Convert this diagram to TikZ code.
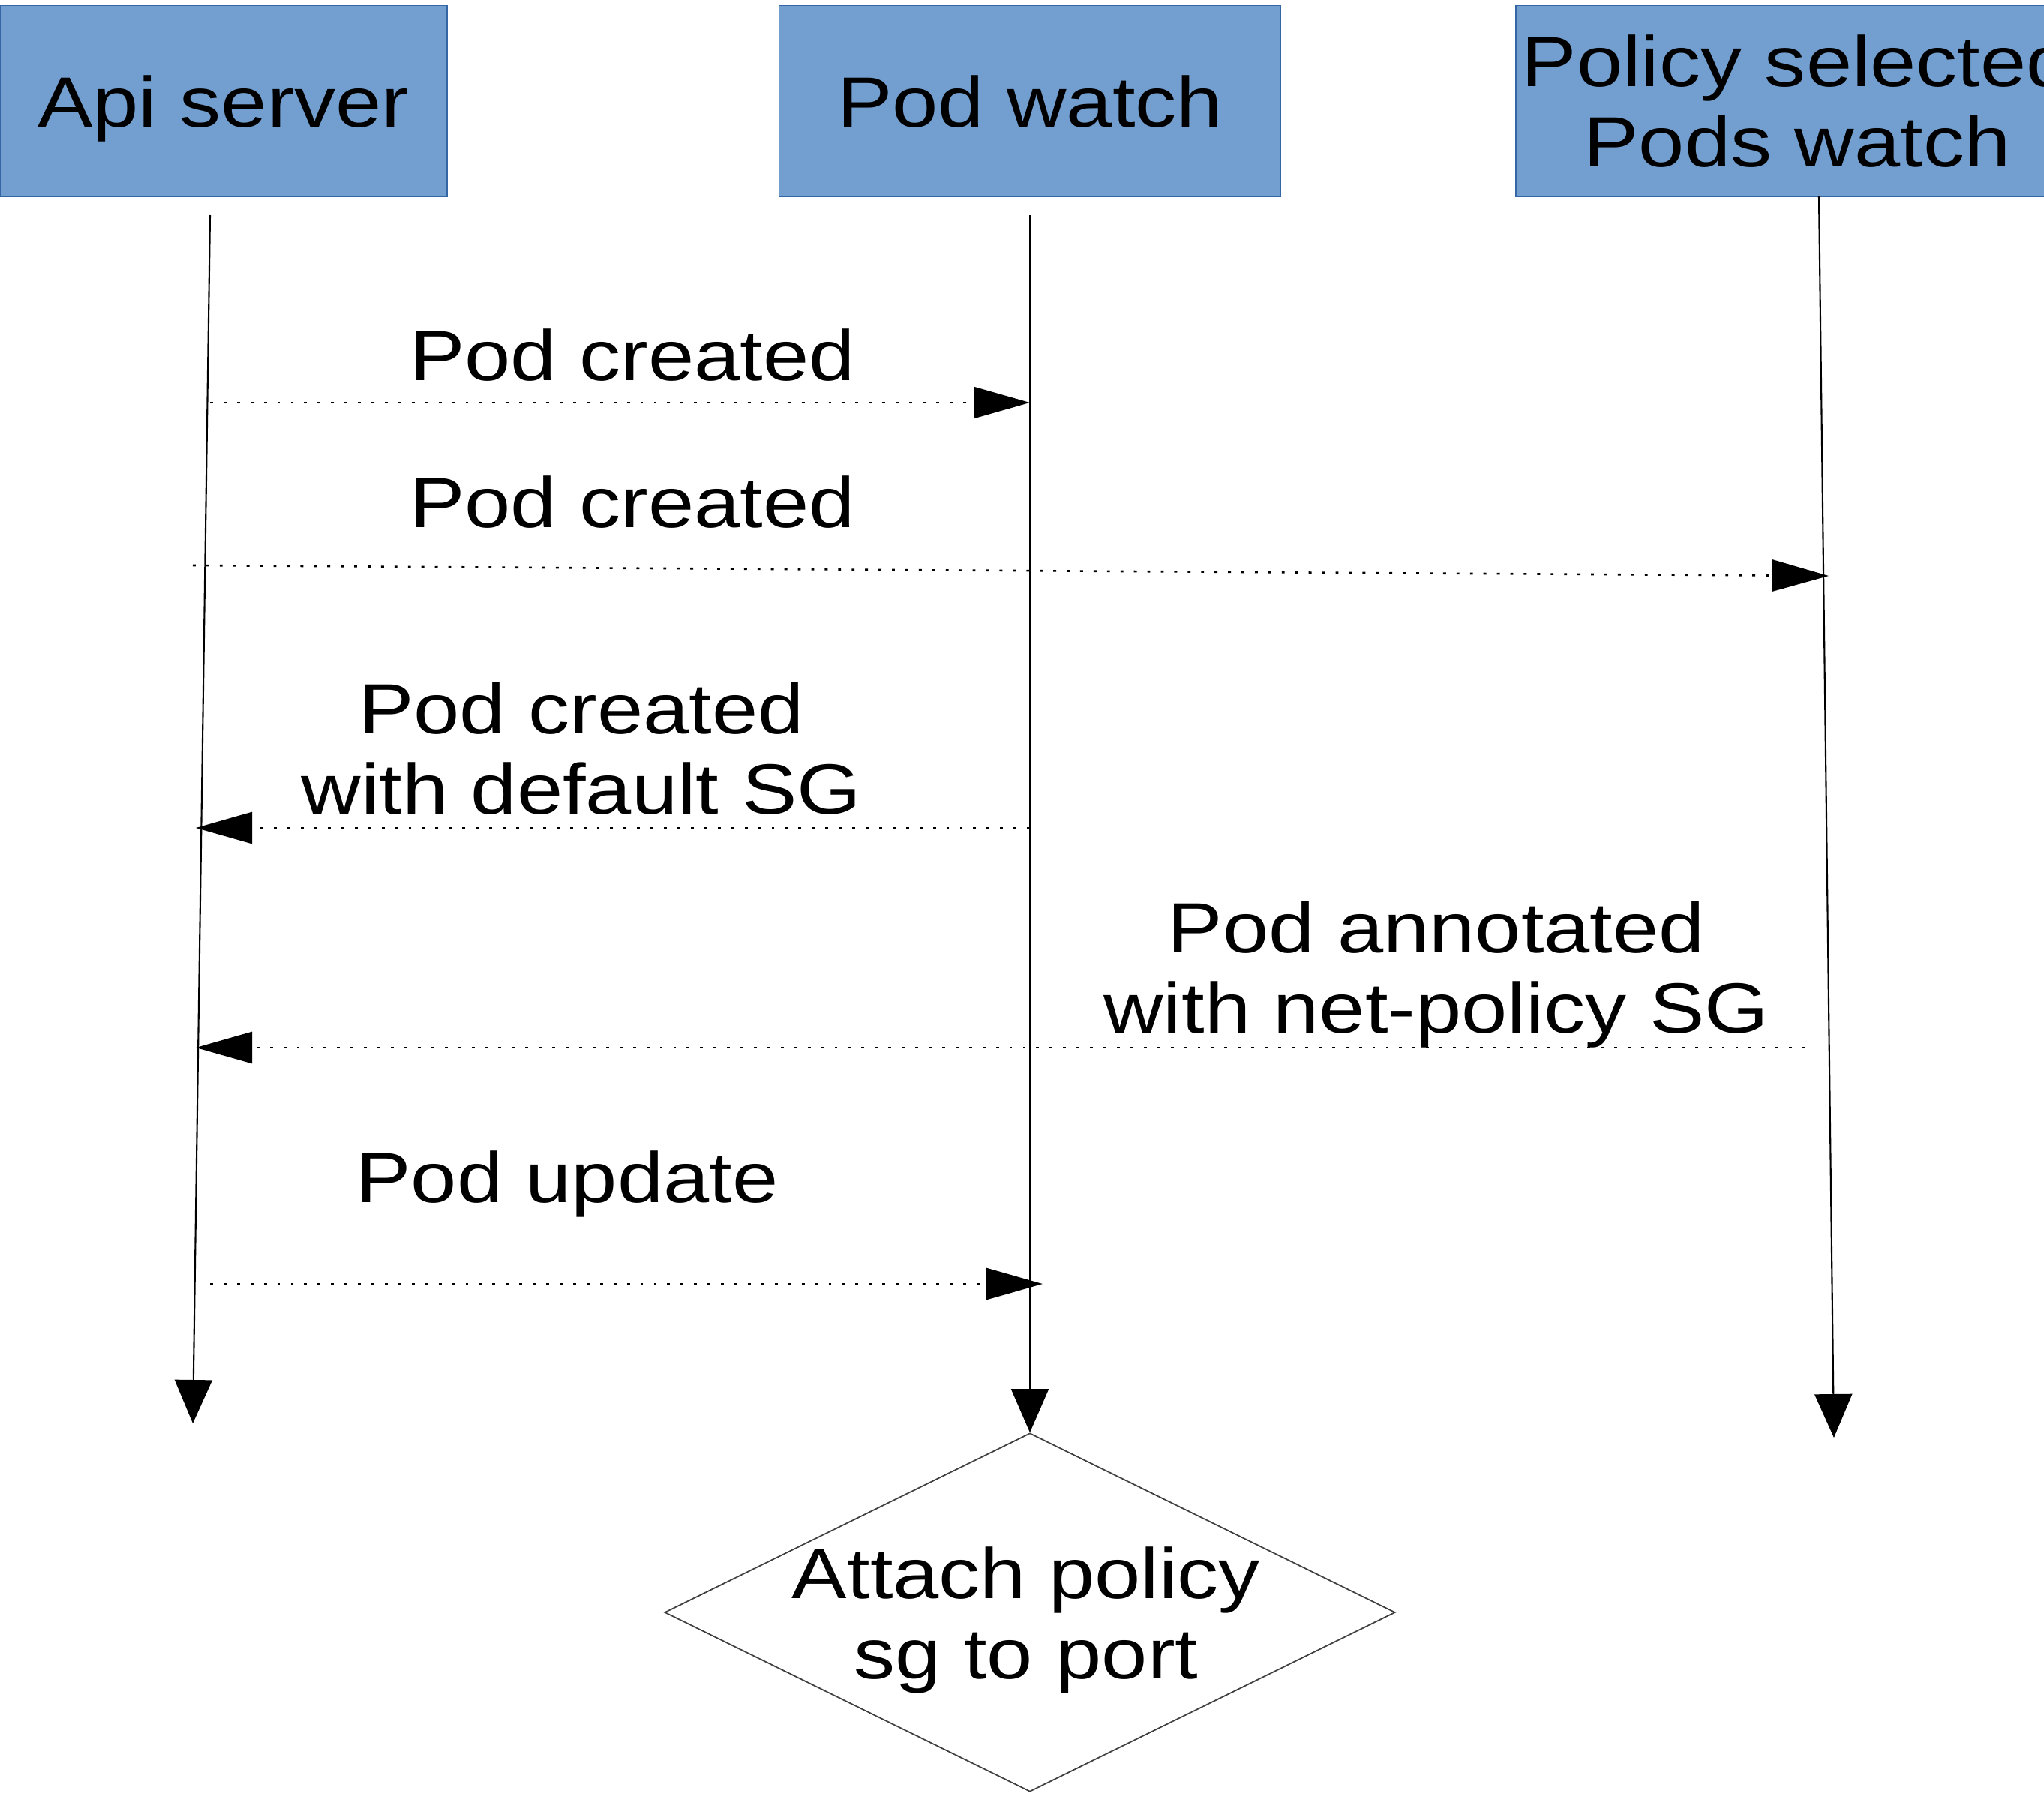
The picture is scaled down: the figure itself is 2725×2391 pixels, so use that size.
\documentclass[tikz,border=0pt]{standalone}
\usepackage{fontspec}
\setmainfont[FakeStretch=1.16]{Liberation Sans}
\usepackage{tikz}
\usetikzlibrary{shapes.geometric, arrows.meta, positioning, calc}
\definecolor{actorFill}{RGB}{114, 159, 207}
\definecolor{actorLine}{RGB}{52, 101, 164}

\begin{document}
\begin{tikzpicture}[
    x=0.1mm, y=-0.1mm,
    font=\fontsize{27}{30.4}\selectfont,
    actor/.style={
        rectangle,
        draw=actorLine,
        fill=actorFill,
        minimum height=25.5mm,
        inner sep=0pt,
        text depth=0pt,
        align=center
    },
    life/.style={
        line width=0.6pt,
        -{Triangle[length=5.8mm, width=5mm]}
    },
    msg/.style={
        line width=0.75pt,
        dash pattern=on 1.1pt off 4pt,
        -{Triangle[length=7.5mm, width=4.2mm]}
    },
    msglabel/.style={
        align=center,
        text depth=0pt,
        inner sep=0pt
    },
    decision/.style={
        diamond,
        draw=black!75,
        line width=0.5pt,
        minimum width=97.4mm,
        minimum height=47.8mm,
        inner sep=0pt
    }
]
    \useasboundingbox (0,0) rectangle (2725,2391);
    \clip (0,0) rectangle (2725,2391);

    % Actors
    \node[actor, minimum width=59.6mm] (api) at (298,135) {Api server};
    \node[actor, minimum width=66.9mm] (podwatch) at (1373,135) {Pod watch};
    \node[actor, minimum width=75mm] (policywatch) at (2396,135) {Policy selected\\Pods watch};

    % Decision
    \node[decision] (attach) at (1373,2150) {};
    \node[msglabel] (attachtext) at (1368,2151) {Attach policy\\sg to port};

    % Lifelines
    \coordinate (apitop) at (280,287);
    \coordinate (apiend) at (257,1898);
    \coordinate (podtop) at (1373,287);
    \coordinate (policytop) at (2425,262);
    \coordinate (policyend) at (2445,1917);
    \draw[life] (apitop) -- (apiend);
    \draw[life] (podtop) -- (attach.north);
    \draw[life] (policytop) -- (policyend);

    % Messages
    \foreach \n/\sx/\sy/\ex/\ey in {1/280/537/1373/537, 2/257/754/2438/768, 3/1373/1104/261/1104, 4/2407/1397/261/1397, 5/280/1712/1390/1712} {
        \coordinate (m\n s) at (\sx,\sy);
        \coordinate (m\n e) at (\ex,\ey);
        \draw[msg] (m\n s) -- (m\n e);
    }

    % Labels
    \node[msglabel] (lbl1) at (843,473) {Pod created};
    \node[msglabel] (lbl2) at (843,669) {Pod created};
    \node[msglabel] (lbl3) at (775,998) {Pod created\\with default SG};
    \node[msglabel] (lbl4) at (1915,1290) {Pod annotated\\with net-policy SG};
    \node[msglabel] (lbl5) at (756,1569) {Pod update};

\end{tikzpicture}
\end{document}
